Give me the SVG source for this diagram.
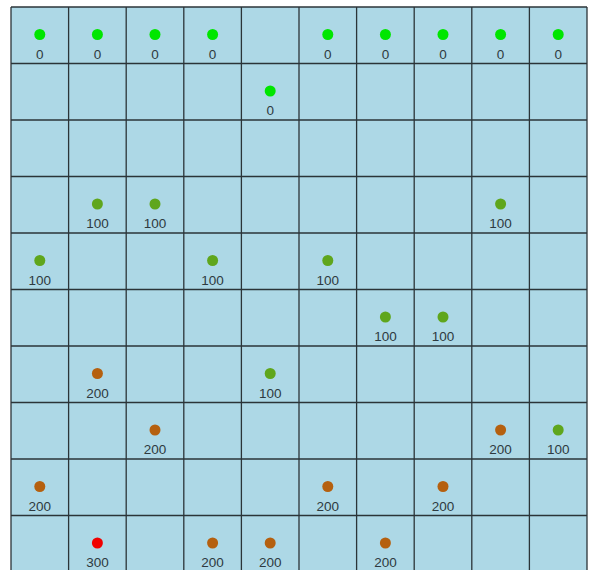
<svg xmlns="http://www.w3.org/2000/svg" width="589" height="570" viewBox="0 0 589 570">
<style>
.bg{fill:#add8e6}
.grid line{stroke:#2b3438;stroke-width:1.3}
.d0{fill:#00e600}
.d1{fill:#5fa61c}
.d2{fill:#b5600f}
.d3{fill:#f00000}
text{font-family:"Liberation Sans",Arial,sans-serif;font-size:13.5px;fill:#2e3a40;text-anchor:middle}
</style>
<rect x="0" y="0" width="589" height="570" fill="#ffffff"/>
<rect class="bg" x="11" y="7" width="576" height="565"/>
<g id="grid" class="grid">
<line x1="11" y1="7" x2="11" y2="570"/>
<line x1="68.6" y1="7" x2="68.6" y2="570"/>
<line x1="126.2" y1="7" x2="126.2" y2="570"/>
<line x1="183.8" y1="7" x2="183.8" y2="570"/>
<line x1="241.4" y1="7" x2="241.4" y2="570"/>
<line x1="299" y1="7" x2="299" y2="570"/>
<line x1="356.6" y1="7" x2="356.6" y2="570"/>
<line x1="414.2" y1="7" x2="414.2" y2="570"/>
<line x1="471.8" y1="7" x2="471.8" y2="570"/>
<line x1="529.4" y1="7" x2="529.4" y2="570"/>
<line x1="587" y1="7" x2="587" y2="570"/>
<line x1="11" y1="7" x2="587" y2="7"/>
<line x1="11" y1="63.5" x2="587" y2="63.5"/>
<line x1="11" y1="120" x2="587" y2="120"/>
<line x1="11" y1="176.5" x2="587" y2="176.5"/>
<line x1="11" y1="233" x2="587" y2="233"/>
<line x1="11" y1="289.5" x2="587" y2="289.5"/>
<line x1="11" y1="346" x2="587" y2="346"/>
<line x1="11" y1="402.5" x2="587" y2="402.5"/>
<line x1="11" y1="459" x2="587" y2="459"/>
<line x1="11" y1="515.5" x2="587" y2="515.5"/>
</g>
<g id="connectors"></g>
<!-- row 0 -->
<g id="n0_0"><circle class="d0" cx="39.8" cy="34.5" r="5.5"/><text x="39.8" y="58.5">0</text></g>
<g id="n0_1"><circle class="d0" cx="97.4" cy="34.5" r="5.5"/><text x="97.4" y="58.5">0</text></g>
<g id="n0_2"><circle class="d0" cx="155" cy="34.5" r="5.5"/><text x="155" y="58.5">0</text></g>
<g id="n0_3"><circle class="d0" cx="212.6" cy="34.5" r="5.5"/><text x="212.6" y="58.5">0</text></g>
<g id="n0_5"><circle class="d0" cx="327.8" cy="34.5" r="5.5"/><text x="327.8" y="58.5">0</text></g>
<g id="n0_6"><circle class="d0" cx="385.4" cy="34.5" r="5.5"/><text x="385.4" y="58.5">0</text></g>
<g id="n0_7"><circle class="d0" cx="443" cy="34.5" r="5.5"/><text x="443" y="58.5">0</text></g>
<g id="n0_8"><circle class="d0" cx="500.6" cy="34.5" r="5.5"/><text x="500.6" y="58.5">0</text></g>
<g id="n0_9"><circle class="d0" cx="558.2" cy="34.5" r="5.5"/><text x="558.2" y="58.5">0</text></g>
<!-- row 1 -->
<g id="n1_4"><circle class="d0" cx="270.2" cy="91" r="5.5"/><text x="270.2" y="115">0</text></g>
<!-- row 3 -->
<g id="n3_1"><circle class="d1" cx="97.4" cy="204" r="5.5"/><text x="97.4" y="228">100</text></g>
<g id="n3_2"><circle class="d1" cx="155" cy="204" r="5.5"/><text x="155" y="228">100</text></g>
<g id="n3_8"><circle class="d1" cx="500.6" cy="204" r="5.5"/><text x="500.6" y="228">100</text></g>
<!-- row 4 -->
<g id="n4_0"><circle class="d1" cx="39.8" cy="260.5" r="5.5"/><text x="39.8" y="284.5">100</text></g>
<g id="n4_3"><circle class="d1" cx="212.6" cy="260.5" r="5.5"/><text x="212.6" y="284.5">100</text></g>
<g id="n4_5"><circle class="d1" cx="327.8" cy="260.5" r="5.5"/><text x="327.8" y="284.5">100</text></g>
<!-- row 5 -->
<g id="n5_6"><circle class="d1" cx="385.4" cy="317" r="5.5"/><text x="385.4" y="341">100</text></g>
<g id="n5_7"><circle class="d1" cx="443" cy="317" r="5.5"/><text x="443" y="341">100</text></g>
<!-- row 6 -->
<g id="n6_1"><circle class="d2" cx="97.4" cy="373.5" r="5.5"/><text x="97.4" y="397.5">200</text></g>
<g id="n6_4"><circle class="d1" cx="270.2" cy="373.5" r="5.5"/><text x="270.2" y="397.5">100</text></g>
<!-- row 7 -->
<g id="n7_2"><circle class="d2" cx="155" cy="430" r="5.5"/><text x="155" y="454">200</text></g>
<g id="n7_8"><circle class="d2" cx="500.6" cy="430" r="5.5"/><text x="500.6" y="454">200</text></g>
<g id="n7_9"><circle class="d1" cx="558.2" cy="430" r="5.5"/><text x="558.2" y="454">100</text></g>
<!-- row 8 -->
<g id="n8_0"><circle class="d2" cx="39.8" cy="486.5" r="5.5"/><text x="39.8" y="510.5">200</text></g>
<g id="n8_5"><circle class="d2" cx="327.8" cy="486.5" r="5.5"/><text x="327.8" y="510.5">200</text></g>
<g id="n8_7"><circle class="d2" cx="443" cy="486.5" r="5.5"/><text x="443" y="510.5">200</text></g>
<!-- row 9 -->
<g id="n9_1"><circle class="d3" cx="97.4" cy="543" r="5.5"/><text x="97.4" y="567">300</text></g>
<g id="n9_3"><circle class="d2" cx="212.6" cy="543" r="5.5"/><text x="212.6" y="567">200</text></g>
<g id="n9_4"><circle class="d2" cx="270.2" cy="543" r="5.5"/><text x="270.2" y="567">200</text></g>
<g id="n9_6"><circle class="d2" cx="385.4" cy="543" r="5.5"/><text x="385.4" y="567">200</text></g>
</svg>
